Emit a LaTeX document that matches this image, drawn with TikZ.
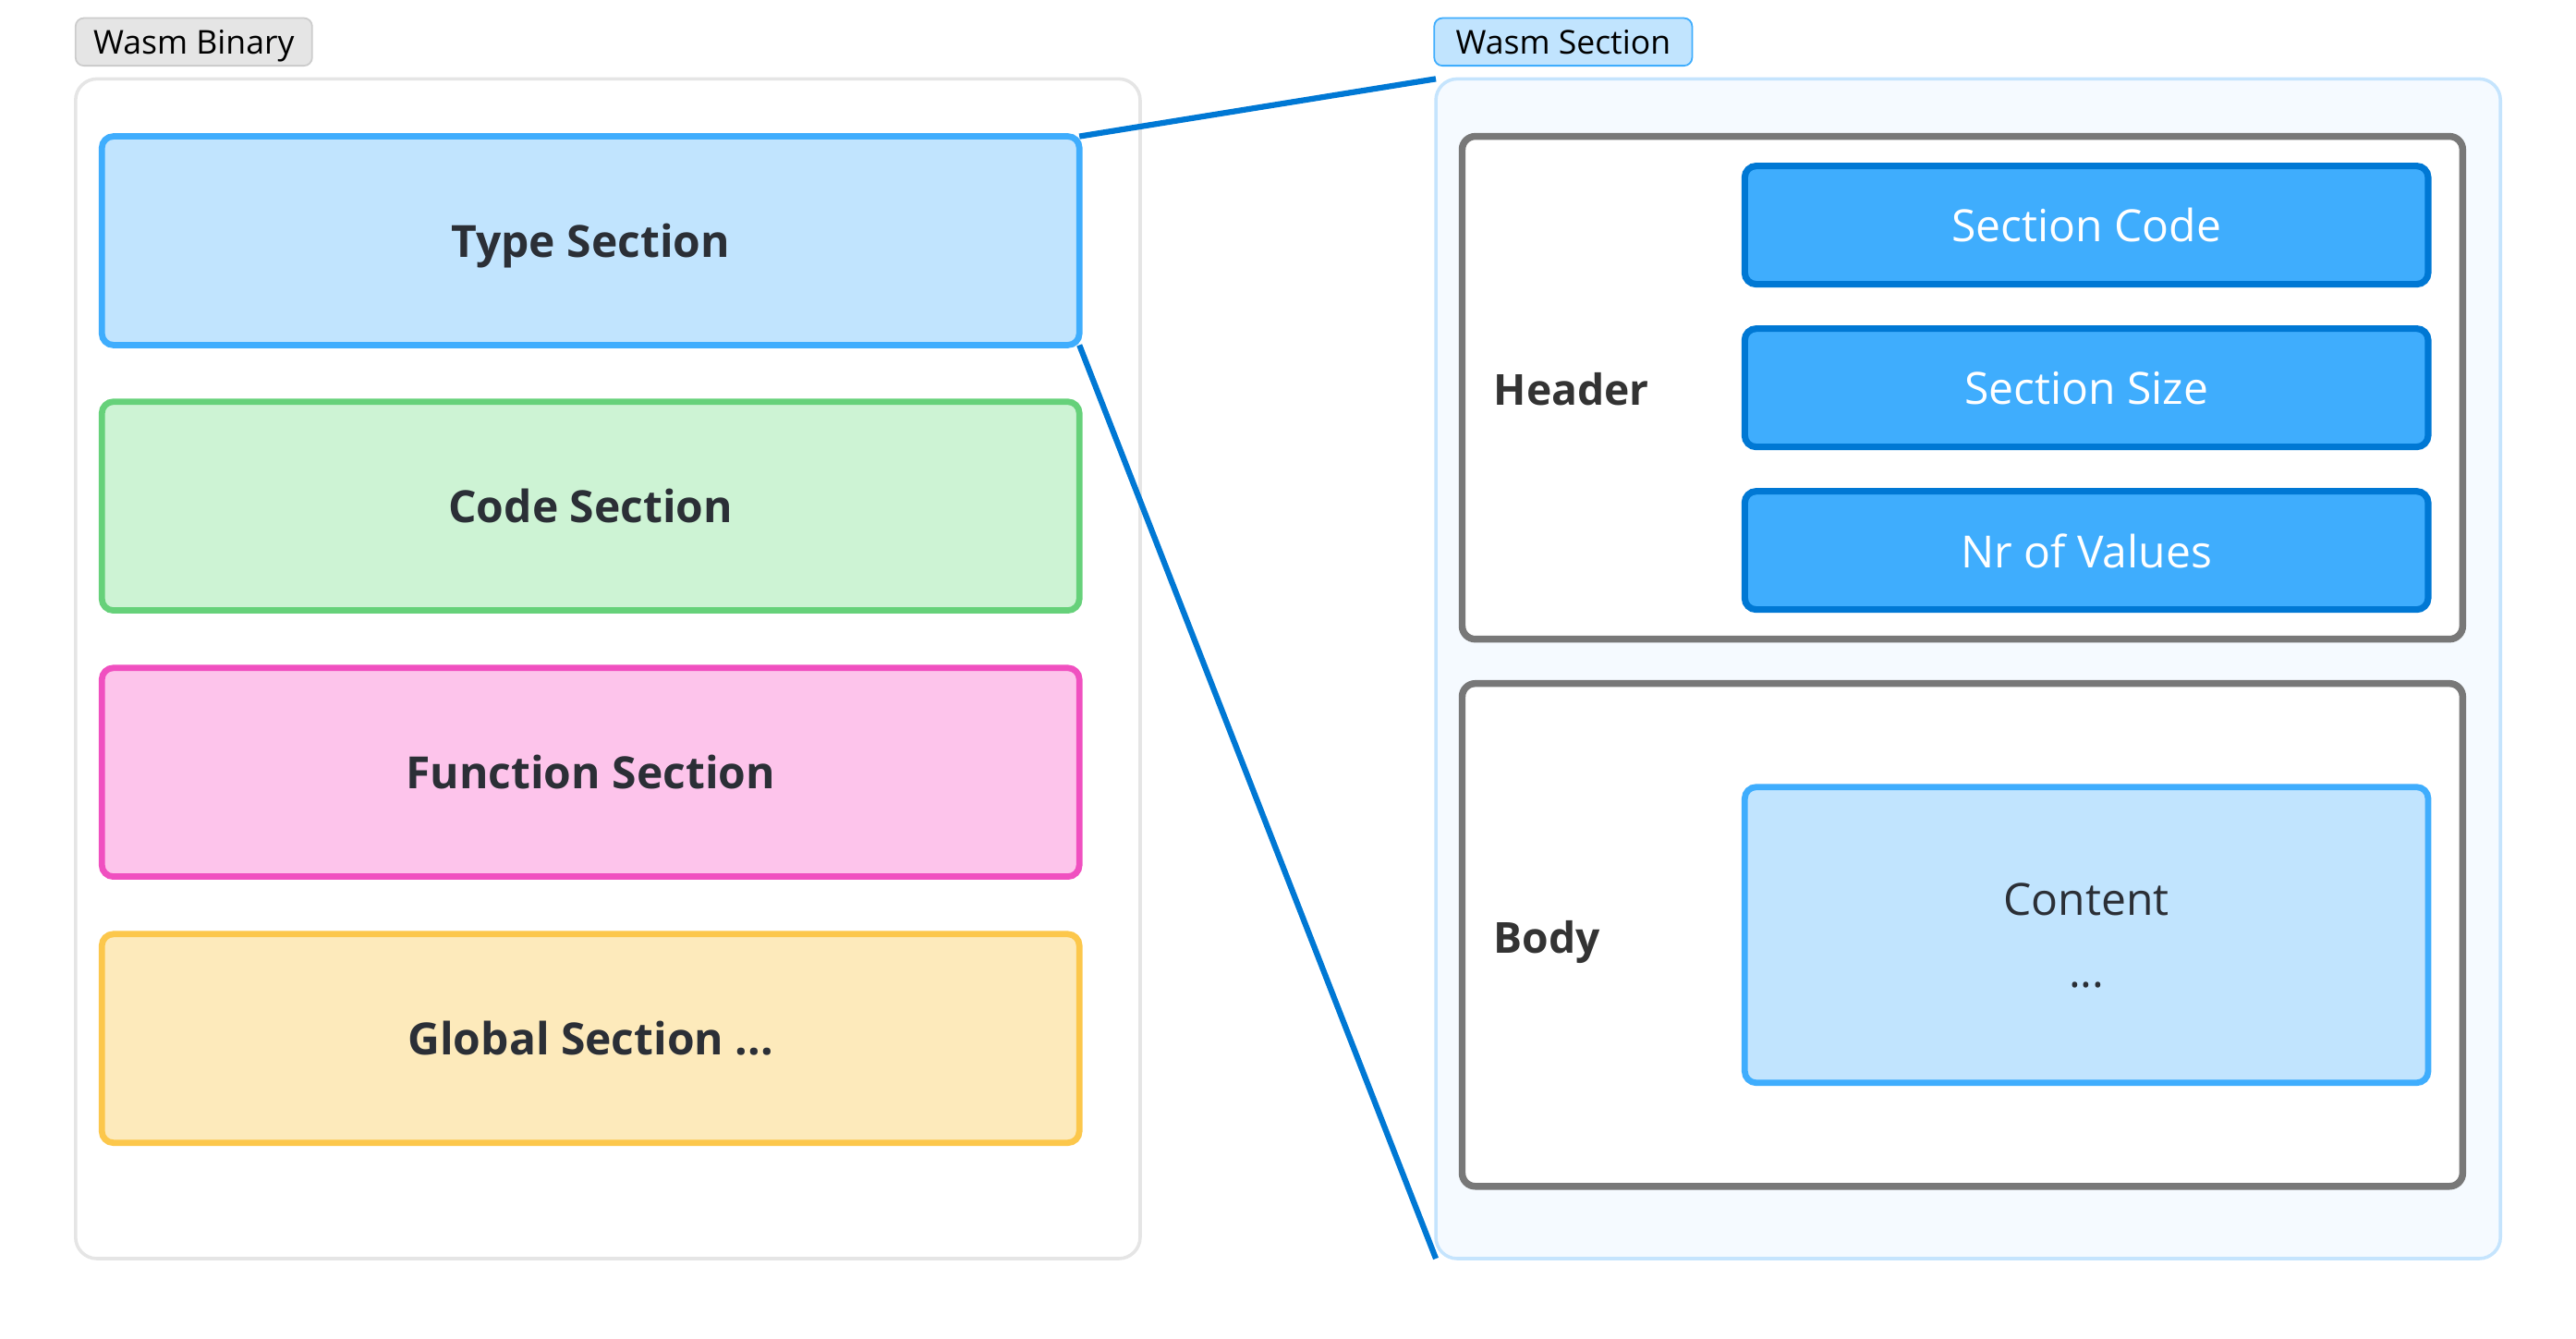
\documentclass[tikz,border=0pt]{standalone}
\usepackage{fontspec}
\setmainfont{Open Sans}
\usepackage{tikz}
\definecolor{txtdark}{HTML}{2B2F36}
\definecolor{lblue}{HTML}{C1E4FE}
\definecolor{mblue}{HTML}{3FADFD}
\definecolor{dblue}{HTML}{0078D4}
\definecolor{lgreen}{HTML}{CDF3D4}
\definecolor{mgreen}{HTML}{66D17A}
\definecolor{lpink}{HTML}{FDC4EB}
\definecolor{mpink}{HTML}{F050C0}
\definecolor{lyellow}{HTML}{FDEABB}
\definecolor{myellow}{HTML}{FCC74B}
\definecolor{boxgray}{HTML}{787878}
\definecolor{secbg}{HTML}{F5FAFF}
\definecolor{secborder}{HTML}{C5E4FD}

\begin{document}
\begin{tikzpicture}[x=1pt,y=-1pt,
    tag/.style={draw,rounded corners=5pt,line width=1pt,outer sep=0pt,minimum height=29pt,text depth=0pt,font=\fontsize{20}{24}\selectfont,text=black},
    frame/.style={draw,rounded corners=13pt,line width=2pt,outer sep=0pt,minimum width=648pt,minimum height=718pt},
    section/.style={draw,rounded corners=7pt,line width=3.8pt,outer sep=0pt,minimum width=595pt,minimum height=127pt,text depth=0pt,font=\fontsize{27}{32}\selectfont\bfseries,text=txtdark},
    part/.style={draw=boxgray,fill=white,rounded corners=8pt,line width=4.2pt,outer sep=0pt,minimum width=609pt,minimum height=306pt},
    field/.style={draw=dblue,fill=mblue,rounded corners=7pt,line width=4pt,outer sep=0pt,minimum width=416pt,minimum height=72pt,text depth=0pt,font=\fontsize{27}{32}\selectfont,text=white},
    partname/.style={anchor=west,inner sep=0pt,text depth=0pt,font=\fontsize{26}{32}\selectfont\bfseries,text=black!80},
    link/.style={dblue,line width=3.5pt}]
    \useasboundingbox (0,0) rectangle (1568,814.4);

    \node[tag,draw=black!20,fill=black!10,minimum width=144pt] (binlbl) at (118,25.5) {Wasm Binary};
    \node[frame,draw=black!10,fill=white] (bin) at (370,407) {};
    \node[section,draw=mblue,fill=lblue] (type) at (359.5,146.5) {Type Section};
    \node[section,draw=mgreen,fill=lgreen] (code) at (359.5,308) {Code Section};
    \node[section,draw=mpink,fill=lpink] (func) at (359.5,470) {Function Section};
    \node[section,draw=myellow,fill=lyellow] (global) at (359.5,632) {Global Section ...};

    \node[tag,draw=mblue,fill=lblue,minimum width=157pt] (seclbl) at (951.5,25.5) {Wasm Section};
    \node[frame,draw=secborder,fill=secbg] (sec) at (1198,407) {};
    \node[part] (header) at (1194.5,236) {};
    \node[part] (body) at (1194.5,569) {};
    \node[partname] (headerlbl) at (909,237) {Header};
    \node[partname] (bodylbl) at (909,570) {Body};
    \node[field] (seccode) at (1270,137) {Section Code};
    \node[field] (secsize) at (1270,236) {Section Size};
    \node[field] (nrvals) at (1270,335) {Nr of Values};
    \node[section,draw=mblue,fill=lblue,minimum width=416pt,minimum height=180pt,align=center,font=\fontsize{27}{44}\selectfont] (content) at (1270,569) {Content\\...};

    \draw[link] (type.north east) -- (sec.north west);
    \draw[link] (type.south east) -- (sec.south west);
\end{tikzpicture}
\end{document}
